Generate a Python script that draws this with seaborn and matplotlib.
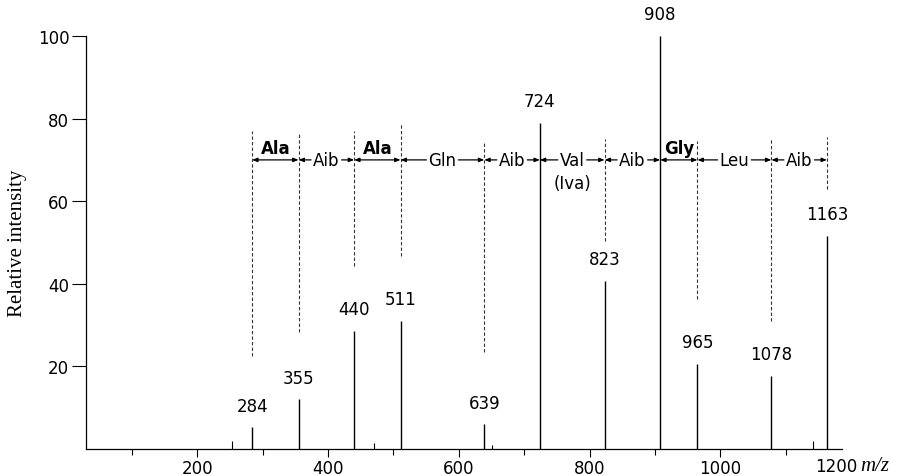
import numpy as np
import matplotlib
matplotlib.use("Agg")
import matplotlib.pyplot as plt
import seaborn as sns

# fragment ions (m/z) and relative intensities
peak_mz = [284, 355, 440, 511, 639, 724, 823, 908, 965, 1078, 1163]
peak_int = [5.3, 12.1, 28.6, 31.0, 6.0, 79.0, 40.7, 100.0, 20.6, 17.7, 51.6]

# small baseline peaks
minor_mz = [253, 470, 651, 1141]
minor_int = [1.9, 1.5, 1.0, 1.9]

# dashed guide lines above each fragment (None = peak itself is the guide)
guide_lo = [22.5, 28.3, 44.3, 46.7, 23.5, None, 50.4, None, 36.3, 31.0, 63.0]
guide_hi = [77.0, 76.7, 77.0, 78.7, 74.6, None, 75.0, None, 74.6, 75.0, 75.5]

# residues between consecutive fragments
residues = ['Ala', 'Aib', 'Ala', 'Gln', 'Aib', 'Val', 'Aib', 'Gly', 'Leu', 'Aib']
residue_sub = ['', '', '', '', '', '(Iva)', '', '', '', '']
residue_bold = [True, False, True, False, False, False, False, True, False, False]
residue_y = 70

x_major = [200, 400, 600, 800, 1000]
x_minor = [100, 300, 500, 700, 900, 1100]
y_ticks = [20, 40, 60, 80, 100]

sns.set_style('ticks')
plt.rcParams['font.family'] = 'DejaVu Sans'
for key in ['text.color', 'axes.labelcolor', 'xtick.color', 'ytick.color', 'axes.edgecolor']:
    plt.rcParams[key] = 'black'

fig = plt.figure(figsize=(9, 4.77), dpi=100)
ax = fig.add_axes([86 / 900, 1 - 450 / 477, 756 / 900, 413 / 477])

# spectrum sticks
ax.vlines(peak_mz, 0, peak_int, color='black', lw=1.0)
ax.vlines(minor_mz, 0, minor_int, color='black', lw=0.8)

# peak labels
for mz, h in zip(peak_mz, peak_int):
    ax.annotate(str(mz), xy=(mz, h), xytext=(0, 9), textcoords='offset points',
                ha='center', va='bottom', fontsize=12, annotation_clip=False)

# dashed guides
for mz, lo, hi in zip(peak_mz, guide_lo, guide_hi):
    if lo is None:
        continue
    ax.plot([mz, mz], [lo, hi], color='#333333', lw=0.8, dashes=(3, 2))

ax.set_xlim(30, 1186)
ax.set_ylim(0, 100)

# residue labels
inline = []
for i, name in enumerate(residues):
    a, b = peak_mz[i], peak_mz[i + 1]
    mid = (a + b) / 2
    if residue_bold[i]:
        ax.annotate('', xy=(b, residue_y), xytext=(a, residue_y),
                    arrowprops=dict(arrowstyle='<|-|>,head_length=0.3,head_width=0.12',
                                    color='black', lw=0.9, shrinkA=0, shrinkB=0))
        ax.annotate(name, xy=(mid, residue_y), xytext=(0, 2), textcoords='offset points',
                    ha='center', va='bottom', fontsize=12, fontweight='bold')
    else:
        t = ax.text(mid, residue_y, name, ha='center', va='center', fontsize=12)
        inline.append((t, a, b))
        if residue_sub[i]:
            ax.annotate(residue_sub[i], xy=(mid, residue_y), xytext=(0, -16.5),
                        textcoords='offset points', ha='center', va='center', fontsize=12)

fig.canvas.draw()
inv = ax.transData.inverted()
for t, a, b in inline:
    bb = t.get_window_extent()
    x0 = inv.transform((bb.x0 - 2, bb.y0))[0]
    x1 = inv.transform((bb.x1 + 2, bb.y0))[0]
    for start, end in [(x0, a), (x1, b)]:
        ax.annotate('', xy=(end, residue_y), xytext=(start, residue_y),
                    arrowprops=dict(arrowstyle='-|>,head_length=0.3,head_width=0.12',
                                    color='black', lw=0.9, shrinkA=0, shrinkB=0))

# axes styling
sns.despine(ax=ax)
ax.spines['left'].set_linewidth(0.9)
ax.spines['bottom'].set_linewidth(0.9)
ax.set_xticks(x_major)
ax.set_xticks(x_minor, minor=True)
ax.set_yticks(y_ticks)
ax.tick_params(axis='x', which='major', length=6, width=0.8, labelsize=12, pad=1)
ax.tick_params(axis='x', which='minor', length=4, width=0.8)
ax.tick_params(axis='y', length=10, width=0.8, labelsize=12, pad=2)

ax.text(0.992, -0.040, '1200', transform=ax.transAxes, ha='center', va='center', fontsize=12)
ax.text(1.024, -0.040, 'm/z', transform=ax.transAxes, ha='left', va='center',
        fontsize=15, family='Liberation Serif', style='italic')

ax.set_ylabel('Relative intensity', family='Liberation Serif', fontsize=15)
ax.yaxis.set_label_coords(-0.078, 0.50)

fig.savefig('out.png', dpi=100)
